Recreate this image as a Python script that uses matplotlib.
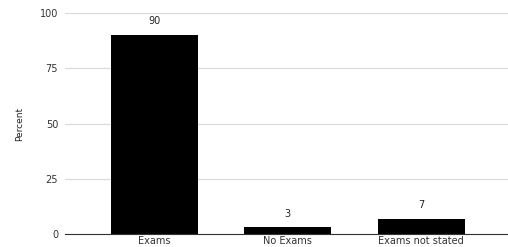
import matplotlib.pyplot as plt

# Данные
categories = ['Exams', 'No Exams', 'Exams not stated']
percent = [90, 3, 7]
y_ticks = [0, 25, 50, 75, 100]

fig = plt.figure(figsize=(5.08, 2.47), dpi=100)
ax = fig.add_axes([0.128, 0.0526, 0.872, 0.894])

x = range(len(categories))
bars = ax.bar(x, percent, width=0.65, color='black', zorder=3)

for xi, v in zip(x, percent):
    ax.text(xi, v + 4, str(v), ha='center', va='bottom', fontsize=7, color='#222222')

ax.set_xlim(-0.67, 2.65)
ax.set_ylim(0, 100)
ax.set_yticks(y_ticks)
ax.set_xticks(list(x))
ax.set_xticklabels(categories)
ax.tick_params(axis='both', length=0, labelsize=7, labelcolor='#333333')
ax.tick_params(axis='y', pad=5)
ax.tick_params(axis='x', pad=1.5)
ax.grid(axis='y', color='#d9d9d9', linewidth=0.8, zorder=0)
for s in ['top', 'right', 'left']:
    ax.spines[s].set_visible(False)
ax.spines['bottom'].set_color('#333333')
ax.spines['bottom'].set_linewidth(0.8)
ax.spines['bottom'].set_zorder(4)
ax.set_ylabel('Percent', fontsize=6.5, color='#222222', labelpad=11)

plt.savefig('out.png', dpi=100)
